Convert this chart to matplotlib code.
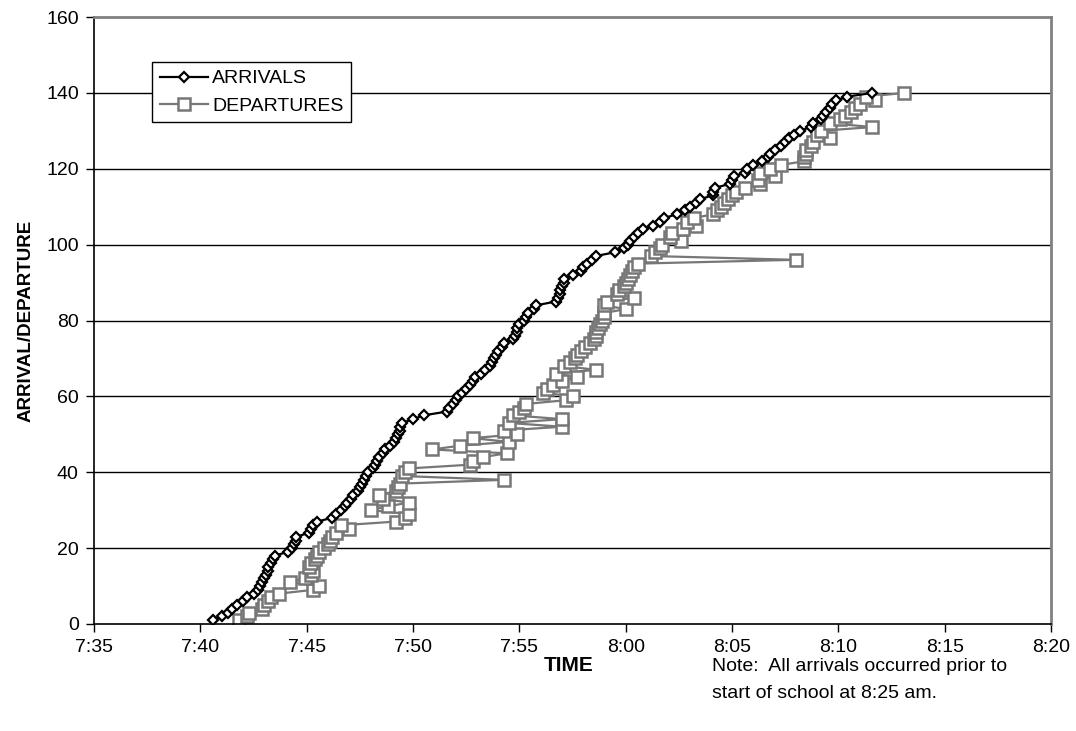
import matplotlib
matplotlib.use('Agg')
import matplotlib.pyplot as plt
import matplotlib.ticker as ticker

plt.rcParams['font.family'] = ['Liberation Sans', 'DejaVu Sans']

# times in minutes after 7:00 (e.g. 41.5 = 7:41:30)
arrival_min = [
    40.6, 41.0, 41.3, 41.5, 41.7, 42.0, 42.2, 42.5, 42.7, 42.8,
    42.9, 43.0, 43.1, 43.2, 43.2, 43.3, 43.4, 43.5, 44.1, 44.3,
    44.4, 44.5, 44.5, 45.1, 45.2, 45.3, 45.5, 46.2, 46.4, 46.6,
    46.8, 46.9, 47.1, 47.2, 47.4, 47.5, 47.6, 47.7, 47.8, 47.9,
    48.1, 48.2, 48.3, 48.4, 48.6, 48.7, 48.9, 49.1, 49.2, 49.3,
    49.4, 49.4, 49.5, 50.0, 50.5, 51.6, 51.7, 51.9, 52.0, 52.1,
    52.3, 52.5, 52.7, 52.8, 52.9, 53.2, 53.4, 53.6, 53.7, 53.8,
    53.9, 54.0, 54.2, 54.3, 54.7, 54.8, 54.9, 54.9, 55.0, 55.2,
    55.3, 55.4, 55.7, 55.8, 56.7, 56.8, 56.9, 56.9, 57.0, 57.1,
    57.1, 57.5, 57.9, 58.0, 58.2, 58.4, 58.6, 59.5, 59.9, 60.1,
    60.2, 60.4, 60.6, 60.8, 61.3, 61.6, 61.8, 62.4, 62.8, 63.0,
    63.3, 63.5, 64.1, 64.1, 64.2, 64.9, 65.0, 65.1, 65.6, 65.7,
    66.0, 66.4, 66.7, 66.8, 67.0, 67.3, 67.5, 67.7, 67.9, 68.2,
    68.7, 68.8, 69.2, 69.3, 69.4, 69.6, 69.7, 69.9, 70.4, 71.6,
]

departure_min = [
    41.8, 42.2, 42.3, 42.9, 43.0, 43.2, 43.3, 43.7, 45.3, 45.6,
    44.2, 44.9, 45.2, 45.3, 45.1, 45.2, 45.4, 45.5, 45.6, 45.8,
    46.0, 46.1, 46.2, 46.4, 47.0, 46.6, 49.2, 49.6, 49.8, 48.0,
    48.8, 49.8, 48.6, 48.4, 49.2, 49.3, 49.4, 54.3, 49.5, 49.6,
    49.8, 52.7, 52.8, 53.3, 54.4, 50.9, 52.2, 54.5, 52.8, 54.9,
    54.3, 57.0, 54.5, 57.0, 54.7, 55.0, 55.2, 55.3, 57.2, 57.5,
    56.1, 56.3, 56.6, 57.0, 57.7, 56.7, 58.6, 57.1, 57.4, 57.6,
    57.7, 57.9, 58.1, 58.3, 58.5, 58.6, 58.6, 58.7, 58.8, 58.9,
    59.0, 59.0, 60.0, 59.0, 59.1, 60.4, 59.6, 59.7, 59.9, 60.0,
    60.1, 60.2, 60.3, 60.4, 60.6, 68.0, 61.2, 61.4, 61.6, 61.7,
    62.6, 62.1, 62.2, 62.7, 63.3, 62.9, 63.2, 64.1, 64.3, 64.5,
    64.6, 64.8, 65.0, 65.2, 65.6, 66.3, 66.2, 67.0, 66.3, 66.8,
    67.3, 68.4, 68.4, 68.5, 68.5, 68.7, 68.8, 69.6, 69.0, 69.2,
    71.6, 69.6, 70.1, 70.3, 70.6, 70.8, 71.0, 71.7, 71.3, 73.1,
]

student_no = list(range(1, 141))

x_ticks = [35, 40, 45, 50, 55, 60, 65, 70, 75, 80]
x_tick_labels = ['7:35', '7:40', '7:45', '7:50', '7:55', '8:00',
                 '8:05', '8:10', '8:15', '8:20']
y_ticks = [0, 20, 40, 60, 80, 100, 120, 140, 160]

fig = plt.figure(figsize=(10.76, 7.31), dpi=100)
ax = fig.add_axes([0.0874, 0.1464, 0.8894, 0.8303])

for yv in y_ticks[1:-1]:
    ax.axhline(yv, color='black', linewidth=1.0, zorder=1)

ax.plot(departure_min, student_no, color='#777777', linewidth=1.6,
        marker='s', markersize=8, markerfacecolor='white',
        markeredgecolor='#777777', markeredgewidth=1.8,
        label='DEPARTURES', zorder=2)
ax.plot(arrival_min, student_no, color='black', linewidth=1.6,
        marker='D', markersize=5.5, markerfacecolor='white',
        markeredgecolor='black', markeredgewidth=1.6,
        label='ARRIVALS', zorder=3)

ax.set_xlim(35, 80)
ax.set_ylim(0, 160)
ax.set_xticks(x_ticks)
ax.set_xticklabels(x_tick_labels)
ax.set_yticks(y_ticks)
ax.yaxis.set_major_formatter(ticker.FormatStrFormatter('%d'))
ax.tick_params(direction='out', length=6, width=1, labelsize=14, pad=5)

for side in ['top', 'right']:
    ax.spines[side].set_color('#808080')
    ax.spines[side].set_linewidth(2)
for side in ['left', 'bottom']:
    ax.spines[side].set_color('black')
    ax.spines[side].set_linewidth(1.2)

ax.set_ylabel('ARRIVAL/DEPARTURE', fontsize=13.5, fontweight='bold', labelpad=8)

handles, labels = ax.get_legend_handles_labels()
leg = ax.legend(handles[::-1], labels[::-1], loc='upper left',
                bbox_to_anchor=(0.0606, 0.926), borderaxespad=0,
                fontsize=14, frameon=True, fancybox=False, framealpha=1,
                edgecolor='black', handlelength=2.5, handletextpad=0.2,
                borderpad=0.4, labelspacing=0.5)
leg.get_frame().set_linewidth(1.0)

fig.text(0.528, 0.082, 'TIME', ha='center', va='baseline',
         fontsize=15, fontweight='bold')
fig.text(0.662, 0.082, 'Note:  All arrivals occurred prior to',
         ha='left', va='baseline', fontsize=14)
fig.text(0.662, 0.045, 'start of school at 8:25 am.',
         ha='left', va='baseline', fontsize=14)

fig.savefig('out.png', dpi=100, facecolor='white', edgecolor='none')
plt.close(fig)
